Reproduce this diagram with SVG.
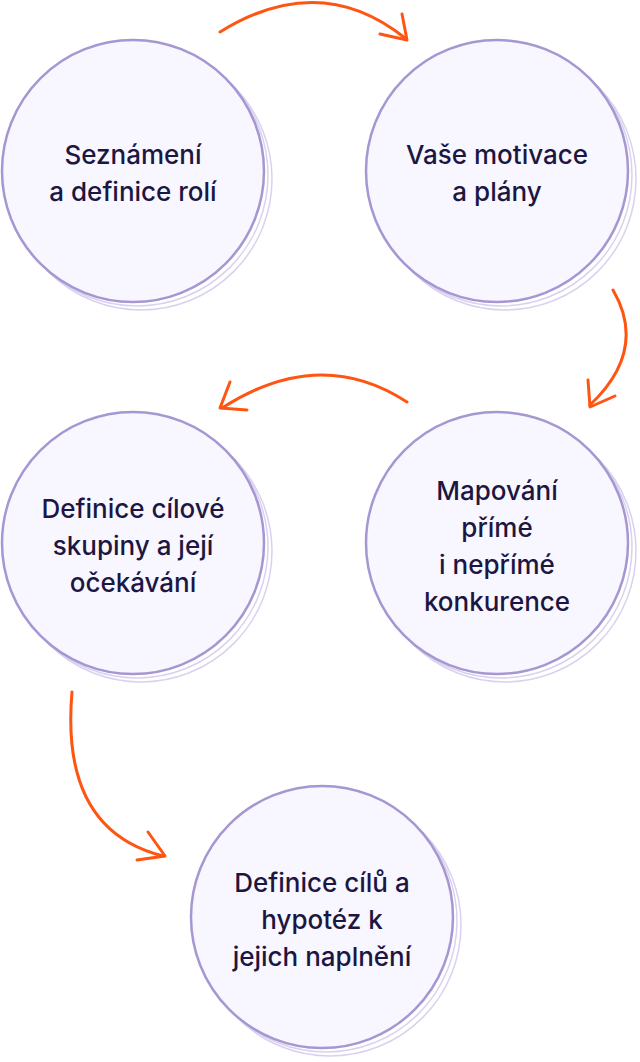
<svg xmlns="http://www.w3.org/2000/svg" width="640" height="1062" viewBox="0 0 640 1062">
<style>
.main{fill:#f8f6fe;stroke:#a697d2;stroke-width:2.5}
.echo{fill:none;stroke:#d9d2ee;stroke-width:1.5}
.t{font-family:Inter,"Noto Sans",sans-serif;font-size:26px;font-weight:500;fill:#1c1642;text-anchor:middle}
.c{fill:none;stroke:#ff5512;stroke-width:3;stroke-linecap:round;stroke-linejoin:round}
</style>
<defs>
<g id="node">
<circle class="echo" cx="8" cy="8" r="131"/>
<circle class="echo" cx="4" cy="4" r="131"/>
<circle class="main" cx="0" cy="0" r="131"/>
</g>
</defs>
<g id="connectors">
<path class="c" d="M220 32 Q320 -30 405 38"/><path class="c" d="M380 34 L407 40 L402 14"/>
<path class="c" d="M613 290 Q648 350 590 405"/><path class="c" d="M588 380 L590 407 L615 396"/>
<path class="c" d="M407 402 Q320 345 222 408"/><path class="c" d="M230 382 L220 408 L247 410"/>
<path class="c" d="M72 692 Q60 830 163 856"/><path class="c" d="M148 832 L165 856 L137 860"/>
</g>
<g id="n1"><use href="#node" x="133" y="171"/><text class="t" x="133" y="164">Seznámení</text><text class="t" x="133" y="201">a definice rolí</text></g>
<g id="n2"><use href="#node" x="497" y="171"/><text class="t" x="497" y="164">Vaše motivace</text><text class="t" x="497" y="201">a plány</text></g>
<g id="n3"><use href="#node" x="133" y="543"/><text class="t" x="133" y="518">Definice cílové</text><text class="t" x="133" y="555">skupiny a její</text><text class="t" x="133" y="592">očekávání</text></g>
<g id="n4"><use href="#node" x="497" y="543"/><text class="t" x="497" y="500">Mapování</text><text class="t" x="497" y="537">přímé</text><text class="t" x="497" y="574">i nepřímé</text><text class="t" x="497" y="611">konkurence</text></g>
<g id="n5"><use href="#node" x="322" y="917"/><text class="t" x="322" y="892">Definice cílů a</text><text class="t" x="322" y="929">hypotéz k</text><text class="t" x="322" y="966">jejich naplnění</text></g>
</svg>
